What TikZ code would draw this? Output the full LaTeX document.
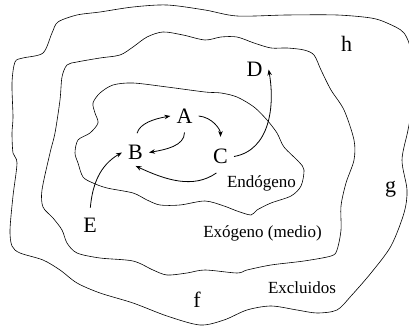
\documentclass[tikz,border=0pt]{standalone}
\usepackage{fontspec}
\setmainfont{Liberation Serif}
\usetikzlibrary{
  arrows,
  arrows.meta
}
\tikzset{>={Stealth[length=6pt, width=4.5pt]}}
\tikzset{
  region/.style={line width=0.6pt},
  letter/.style={inner sep=6pt, font=\fontsize{22}{24}\selectfont},
  tag/.style={anchor=base, inner sep=0pt, font=\fontsize{17}{19}\selectfont},
  flow/.style={->, line width=0.8pt}
}

\begin{document}
\begin{tikzpicture}[x=1pt, y=1pt]
				\useasboundingbox (0,0) rectangle (409,326);
				\clip (0,0) rectangle (409,326);
				\draw[region] plot[smooth cycle] coordinates {
					(43,273) (52,293) (58,304) (77,311) (100,314) (133,319) (167,321)
					(205,316) (237,310) (287,311) (337,311) (371,308) (387,303) (404,293)
					(412,271) (414,231) (408,196) (402,166) (407,136) (404,113) (391,80)
					(371,53) (351,30) (337,16) (317,13) (297,16) (271,20) (247,16)
					(224,6) (200,1) (167,10) (133,23) (100,33) (77,43) (60,56) (43,66)
					(20,73) (12,80) (10,96) (13,130) (17,163) (13,173) (12,193) (13,209)
					(12,243) (15,264) (23,268)};
				\draw[region] plot[smooth cycle] coordinates {
					(205,286) (183,291) (163,294) (147,289) (133,279) (120,271) (100,268)
					(77,264) (67,261) (62,249) (60,226) (55,193) (50,173) (42,136)
					(43,119) (53,108) (62,96) (67,83) (77,73) (100,68) (133,65) (153,56)
					(167,51) (187,53) (205,56) (237,53) (247,56) (271,61) (304,65)
					(331,70) (337,76) (341,96) (341,120) (346,143) (354,166) (354,186)
					(344,216) (331,236) (321,256) (314,271) (304,276) (287,278) (271,278)
					(254,283) (237,289) (221,289)};
				\draw[region] plot[smooth cycle] coordinates {
					(205,234) (167,239) (133,243) (113,241) (100,233) (93,223) (95,213)
					(98,203) (90,193) (78,186) (75,173) (78,163) (83,149) (93,143)
					(107,138) (133,133) (147,126) (160,121) (180,121) (205,125) (224,120)
					(237,115) (251,111) (257,116) (271,123) (291,130) (301,140) (304,156)
					(299,164) (284,179) (277,193) (267,206) (254,219) (237,229) (221,233)};
				\node[letter] (A) at (184.5,210) {A};
				\node[letter] (B) at (135.5,173.5) {B};
				\node[letter] (C) at (220.5,169.5) {C};
				\node[letter] (D) at (254.5,256.5) {D};
				\node[letter] (E) at (90,101) {E};
				\node[letter] (h) at (346.5,282.5) {h};
				\node[letter] (g) at (390.5,136.5) {g};
				\node[letter] (f) at (197,26.5) {f};
				\node[tag] (endo) at (261.5,138) {Endógeno};
				\node[tag] (exo) at (262.5,88) {Exógeno (medio)};
				\node[tag] (excl) at (302,32) {Excluidos};
				\draw[flow, shorten <=6pt] (B.north) to[out=75, in=190] (A.west);
				\draw[flow, shorten <=3pt] (A.south) to[out=-90, in=10] (B.east);
				\draw[flow, shorten >=6pt] (A.east) to[out=-5, in=90] (C.north);
				\draw[flow, shorten <=5pt] (C.south) to[out=-145, in=-25] (B.south);
				\draw[flow] (C.east) to[out=10, in=-80] (D.east);
				\draw[flow, shorten <=4pt] (E.north) to[out=85, in=-150] (B.west);
\end{tikzpicture}
\end{document}
